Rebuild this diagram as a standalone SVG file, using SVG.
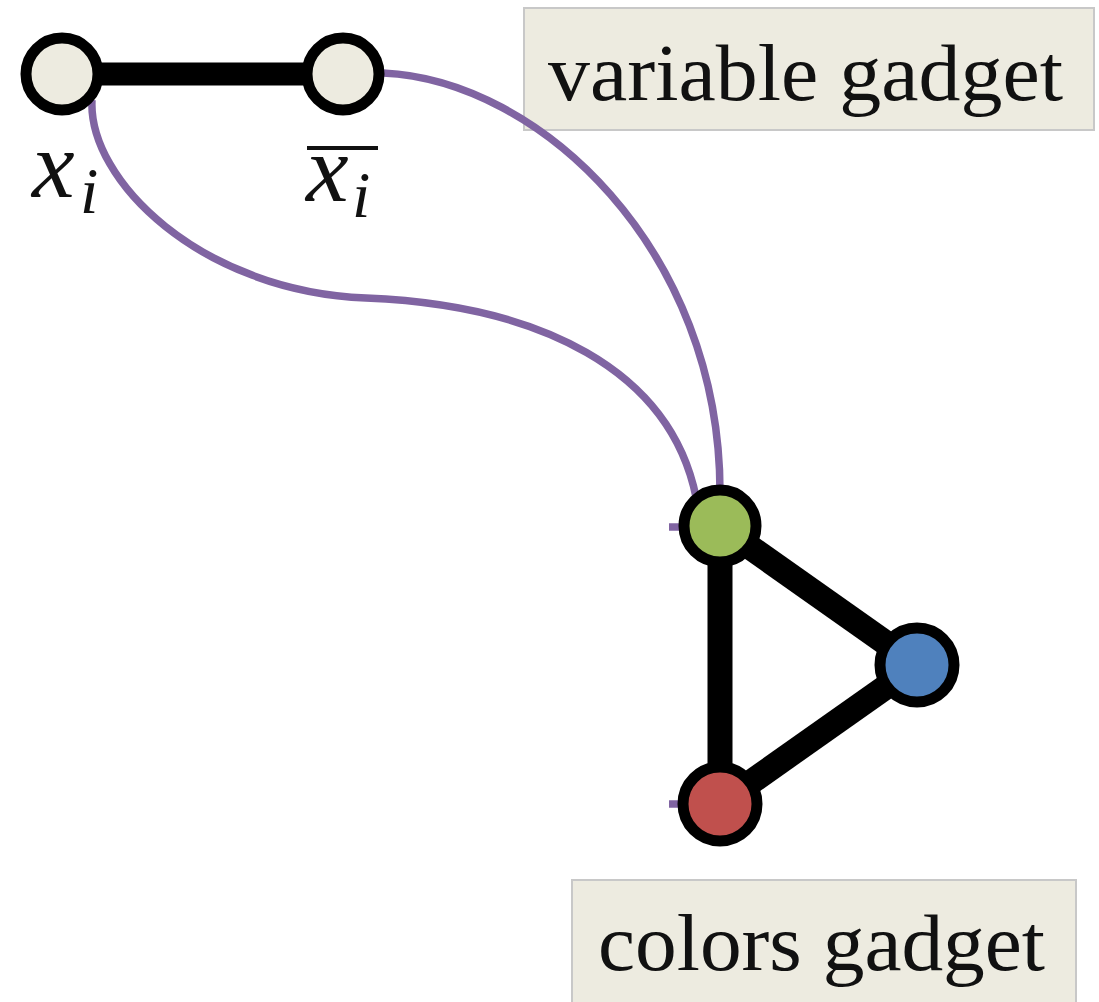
<svg xmlns="http://www.w3.org/2000/svg" width="1099" height="1002" viewBox="0 0 1099 1002">
  <style>
    .vnode { fill: #EDEBE0; stroke: #000; stroke-width: 11; }
    .cnode { stroke: #000; stroke-width: 11; }
    .edge { stroke: #000; stroke-width: 25; stroke-linecap: butt; fill: none; }
    .link { stroke: #8064A2; stroke-width: 7.5; fill: none; stroke-linecap: butt; }
    .box { fill: #EDEBE0; stroke: #C8C8C8; stroke-width: 2; }
    .title { font-family: "Liberation Serif", "DejaVu Serif", serif; font-size: 80px; fill: #111; }
    .math { font-family: "Liberation Serif", "DejaVu Serif", serif; font-style: italic; fill: #111; }
  </style>
  <rect width="1099" height="1002" fill="#fff"/>

  <!-- gadget captions (drawn first so the links run over their corners) -->
  <g id="label-variable-gadget">
    <rect class="box" x="524" y="8" width="570" height="122"/>
    <text class="title" x="548" y="100" textLength="515" lengthAdjust="spacingAndGlyphs">variable gadget</text>
  </g>
  <g id="label-colors-gadget">
    <rect class="box" x="572" y="880" width="504" height="130"/>
    <text class="title" x="598" y="970" textLength="447" lengthAdjust="spacingAndGlyphs">colors gadget</text>
  </g>

  <!-- connectors -->
  <g id="connectors">
    <line class="edge" x1="62" y1="74" x2="343" y2="74" style="stroke-width:23"/>
    <line class="edge" x1="720" y1="526" x2="720" y2="804"/>
    <line class="edge" x1="720" y1="526" x2="917" y2="665"/>
    <line class="edge" x1="720" y1="804" x2="917" y2="665"/>
    <path class="link" d="M 92 100 C 88 180, 200 291, 366 298 C 540 305, 670 370, 696 497"/>
    <path class="link" d="M 383 73 C 540 80, 720 250, 720 492"/>
    <line class="link" x1="669" y1="527" x2="682" y2="527"/>
    <line class="link" x1="669" y1="804" x2="682" y2="804"/>
  </g>

  <!-- variable gadget -->
  <g id="node-xi">
    <circle class="vnode" cx="62" cy="74" r="36"/>
    <text class="math" x="32" y="197" font-size="96">x</text>
    <text class="math" x="80" y="213" font-size="66">i</text>
  </g>
  <g id="node-xi-bar">
    <circle class="vnode" cx="343" cy="74" r="36"/>
    <line x1="307" y1="148" x2="378" y2="148" stroke="#111" stroke-width="4"/>
    <text class="math" x="306" y="201" font-size="96">x</text>
    <text class="math" x="352" y="217" font-size="66">i</text>
  </g>

  <!-- colors gadget -->
  <g id="node-green">
    <circle class="cnode" cx="720" cy="526" r="36" fill="#9BBB59"/>
  </g>
  <g id="node-blue">
    <circle class="cnode" cx="917" cy="665" r="37" fill="#4F81BD"/>
  </g>
  <g id="node-red">
    <circle class="cnode" cx="720" cy="804" r="37" fill="#C0504D"/>
  </g>
</svg>
